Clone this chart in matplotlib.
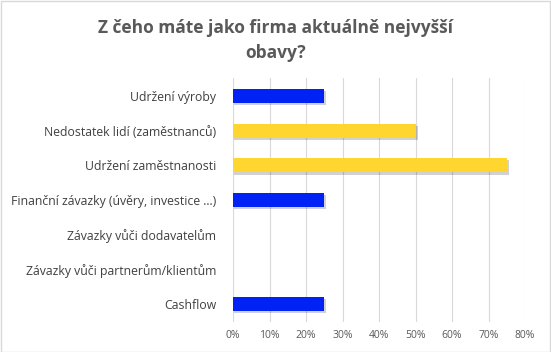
import matplotlib.pyplot as plt
import numpy as np

categories = ["Udržení výroby", "Nedostatek lidí (zaměstnanců)", "Udržení zaměstnanosti",
              "Finanční závazky (úvěry, investice ...)", "Závazky vůči dodavatelům",
              "Závazky vůči partnerům/klientům", "Cashflow"]
values = [0.25, 0.50, 0.75, 0.25, 0.0, 0.0, 0.25]
colors = ["#0022F5", "#FFD530", "#FFD530", "#0022F5", "#0022F5", "#0022F5", "#0022F5"]
xticks = [0, 0.1, 0.2, 0.3, 0.4, 0.5, 0.6, 0.7, 0.8]
xticklabels = ["0%", "10%", "20%", "30%", "40%", "50%", "60%", "70%", "80%"]

plt.rcParams['font.family'] = ['Open Sans', 'DejaVu Sans']

fig = plt.figure(figsize=(5.51, 3.52), dpi=100)
ax = fig.add_axes([233/551, 30/352, 292/551, 244/352])

y = np.arange(len(categories))
v = np.array(values)
# soft shadow only under non-empty bars
shadow = np.where(v > 0, v + 0.004, 0)
ax.barh(y + 0.06, shadow, height=0.41, left=0.002, color="#000000", alpha=0.18,
        linewidth=0, zorder=2)
ax.barh(y, values, height=0.41, color=colors, linewidth=0, zorder=3)

ax.set_ylim(6.52, -0.52)
ax.set_xlim(0, 0.8)
ax.set_yticks(y)
ax.set_yticklabels(categories, fontsize=8.8, color="#404040")
ax.set_xticks(xticks)
ax.set_xticklabels(xticklabels, fontsize=7.5, color="#595959")
ax.tick_params(length=0, pad=6)
ax.tick_params(axis='y', pad=12)
ax.grid(axis='x', color="#D9D9D9", linewidth=0.8, zorder=0)
for s in ax.spines.values():
    s.set_visible(False)

fig.text(0.5, 0.945, "Z čeho máte jako firma aktuálně nejvyšší\nobavy?", ha='center', va='top',
         fontsize=12.5, fontweight='bold', color="#595959", linespacing=1.5)

fig.patches.append(plt.Rectangle((0.001, 0.001), 0.997, 0.997, transform=fig.transFigure,
                                 fill=False, edgecolor="#D9D9D9", linewidth=1))

fig.savefig("out.png", dpi=100)
